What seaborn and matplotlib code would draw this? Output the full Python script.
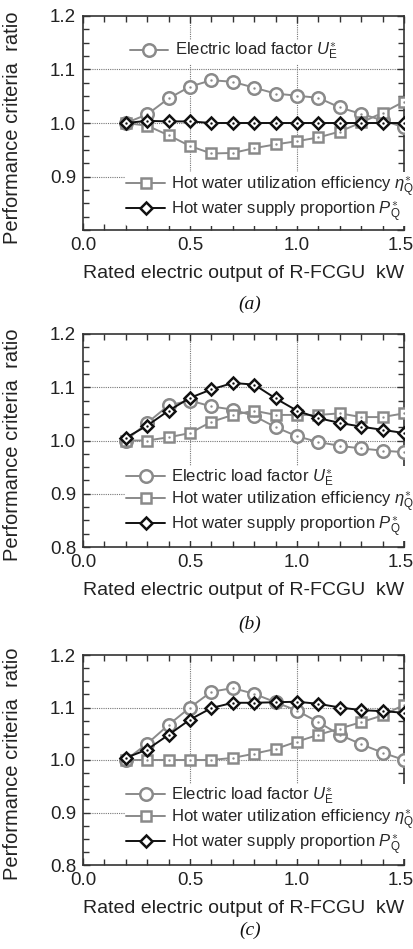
import numpy as np
import pandas as pd
import matplotlib
matplotlib.use("Agg")
import matplotlib.pyplot as plt
import matplotlib.transforms as mtransforms
import seaborn as sns
from matplotlib.ticker import MultipleLocator

sns.set_theme(style="white")
plt.rcParams['font.family'] = ['Liberation Sans', 'DejaVu Sans']
plt.rcParams['mathtext.fontset'] = 'custom'
plt.rcParams['mathtext.rm'] = 'Liberation Sans'
plt.rcParams['mathtext.it'] = 'Liberation Sans:italic'

x = [0.2, 0.3, 0.4, 0.5, 0.6, 0.7, 0.8, 0.9, 1.0, 1.1, 1.2, 1.3, 1.4, 1.5]

ue_a = [1.000, 1.016, 1.046, 1.068, 1.080, 1.077, 1.066, 1.055, 1.051, 1.047, 1.029, 1.017, 1.005, 0.992]
eta_a = [1.000, 0.995, 0.977, 0.957, 0.943, 0.944, 0.953, 0.960, 0.966, 0.973, 0.984, 1.001, 1.019, 1.040]
pq_a = [1.000, 1.004, 1.003, 1.003, 1.000, 1.000, 1.000, 1.000, 1.000, 1.000, 1.000, 1.000, 1.000, 1.000]

ue_b = [1.000, 1.033, 1.066, 1.075, 1.064, 1.058, 1.046, 1.025, 1.008, 0.997, 0.990, 0.985, 0.981, 0.978]
eta_b = [1.000, 1.000, 1.006, 1.014, 1.035, 1.048, 1.056, 1.048, 1.048, 1.048, 1.051, 1.044, 1.044, 1.051]
pq_b = [1.005, 1.028, 1.056, 1.080, 1.096, 1.108, 1.105, 1.079, 1.056, 1.042, 1.033, 1.026, 1.020, 1.014]

ue_c = [1.000, 1.031, 1.067, 1.100, 1.130, 1.137, 1.126, 1.110, 1.094, 1.072, 1.048, 1.030, 1.014, 1.000]
eta_c = [1.000, 1.000, 1.000, 1.000, 1.000, 1.004, 1.012, 1.021, 1.035, 1.048, 1.060, 1.072, 1.085, 1.105]
pq_c = [1.004, 1.020, 1.048, 1.077, 1.099, 1.109, 1.109, 1.110, 1.111, 1.107, 1.100, 1.095, 1.093, 1.090]

labels = [r'Electric load factor $U_{\mathrm{E}}^{\ast}$',
          r'Hot water utilization efficiency $\eta_{\mathrm{Q}}^{\ast}$',
          r'Hot water supply proportion $P_{\mathrm{Q}}^{\ast}$']
captions = ['(a)', '(b)', '(c)']
xticks = [0.0, 0.5, 1.0, 1.5]
yticks = [0.8, 0.9, 1.0, 1.1, 1.2]

W, H = 414, 949
fig = plt.figure(figsize=(W / 100, H / 100), dpi=100)

# axes boxes in pixels: left, right, top, bottom
boxes = [(83, 404, 16, 230), (83, 404, 334, 547), (83, 404, 655, 865)]
datasets = [(ue_a, eta_a, pq_a), (ue_b, eta_b, pq_b), (ue_c, eta_c, pq_c)]

GRAY = '#8a8a8a'
BLACK = '#111111'
styles = [dict(color=GRAY, marker='o', ms=9), dict(color=GRAY, marker='s', ms=7.5), dict(color=BLACK, marker='D', ms=6.5)]

LEGFS = 12


def style_leg(leg):
    fr = leg.get_frame()
    fr.set_edgecolor('none')
    fr.set_facecolor('white')
    fr.set_alpha(1)


for i, ((l, r, t, b), series) in enumerate(zip(boxes, datasets)):
    ax = fig.add_axes([l / W, 1 - b / H, (r - l) / W, (b - t) / H])
    for gy in [0.9, 1.0, 1.1]:
        ax.axhline(gy, color='#777777', lw=0.8, ls=(0, (1, 1)), zorder=0)
    for gx in [0.5, 1.0]:
        ax.axvline(gx, color='#777777', lw=0.8, ls=(0, (1, 1)), zorder=0)
    for j in range(3):
        st = styles[j]
        sns.lineplot(x=x, y=series[j], ax=ax, color=st['color'], lw=1.4,
                     marker=st['marker'], markersize=st['ms'], markerfacecolor='white',
                     markeredgecolor=st['color'], markeredgewidth=1.8, zorder=3 + j)
        sns.scatterplot(x=x, y=series[j], ax=ax, color=st['color'], s=3, linewidth=0, zorder=3.5 + j)
    lines = [ln for ln in ax.get_lines() if ln.get_marker() in ('o', 's', 'D')]
    ax.set_xlim(0.0, 1.5)
    ax.set_ylim(0.8, 1.2)
    ax.set_xticks(xticks)
    ax.set_xticklabels(['0.0', '0.5', '1.0', '1.5'])
    ax.set_yticks(yticks)
    if i == 0:
        ax.set_yticklabels(['', '0.9', '1.0', '1.1', '1.2'])
    else:
        ax.set_yticklabels(['0.8', '0.9', '1.0', '1.1', '1.2'])
    ax.xaxis.set_minor_locator(MultipleLocator(0.1))
    ax.yaxis.set_minor_locator(MultipleLocator(0.025))
    ax.tick_params(which='both', direction='in', top=True, right=True, bottom=True, left=True,
                   color='#333333', width=1.0)
    ax.tick_params(which='major', length=5, labelsize=13.5, pad=5, labelcolor='#222222')
    ax.tick_params(which='minor', length=4)
    # keep the last x tick label inside the canvas
    last = ax.get_xticklabels()[-1]
    last.set_transform(last.get_transform() + mtransforms.ScaledTranslation(-3 / 100, 0, fig.dpi_scale_trans))
    for sp in ax.spines.values():
        sp.set_color('#333333')
        sp.set_linewidth(1.2)
    ax.set_xlabel('Rated electric output of R-FCGU  kW', fontsize=14, color='#222222', labelpad=8)
    ax.set_ylabel('Performance criteria  ratio', fontsize=14.5, color='#222222')
    ax.yaxis.set_label_coords(-0.19, 0.48)

    kw = dict(frameon=True, fontsize=LEGFS, handlelength=2.3, handletextpad=0.4,
              borderpad=0.1, labelspacing=0.0, borderaxespad=0)
    if i == 0:
        leg1 = ax.legend([lines[0]], [labels[0]], loc='upper left', bbox_to_anchor=(0.14, 0.89), **kw)
        style_leg(leg1)
        ax.add_artist(leg1)
        leg2 = ax.legend(lines[1:], labels[1:], loc='lower left', bbox_to_anchor=(0.13, 0.02), **kw)
        style_leg(leg2)
    else:
        leg = ax.legend(lines, labels, loc='lower left', bbox_to_anchor=(0.13, 0.03), **kw)
        style_leg(leg)

    cap_y = [304, 624, 930][i]
    fig.text(250 / W, 1 - cap_y / H, captions[i], ha='center', va='center', fontsize=14,
             family='Liberation Serif', style='italic', color='#111111')

fig.savefig('out.png', dpi=100, facecolor='white')
